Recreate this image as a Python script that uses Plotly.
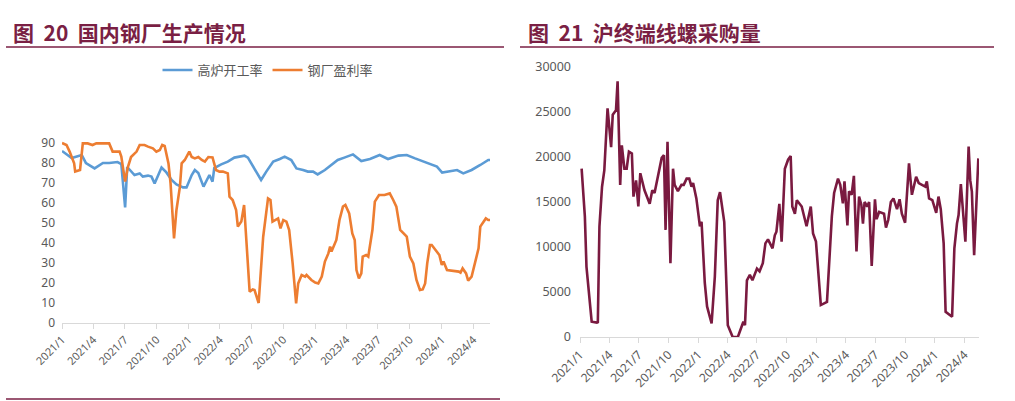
import plotly.graph_objects as go

# ---------------- Left chart data: 国内钢厂生产情况 ----------------
blast_dates = ["2021-01-01","2021-01-29","2021-02-27","2021-03-11","2021-04-05","2021-04-29","2021-05-17",
               "2021-06-10","2021-06-21","2021-07-02","2021-07-08","2021-07-29","2021-08-13","2021-08-22",
               "2021-09-06","2021-09-16","2021-09-25","2021-10-15","2021-10-29","2021-11-13","2021-11-27",
               "2021-12-16","2021-12-26","2022-01-10","2022-01-19","2022-01-29","2022-02-13","2022-03-02",
               "2022-03-11","2022-03-16","2022-04-05","2022-04-24","2022-05-13","2022-06-11","2022-06-21",
               "2022-07-10","2022-07-29","2022-08-13","2022-09-02","2022-09-21","2022-10-05","2022-10-24",
               "2022-11-08","2022-11-27","2022-12-11","2022-12-26","2023-01-08","2023-01-29","2023-02-17",
               "2023-03-07","2023-03-26","2023-04-20","2023-05-14","2023-06-08","2023-07-06","2023-07-30",
               "2023-08-29","2023-09-22","2023-10-16","2023-11-09","2023-11-28","2023-12-18","2024-01-02",
               "2024-01-26","2024-02-14","2024-03-03","2024-03-27","2024-04-21","2024-05-14","2024-05-19"]
blast_rate = [86, 82.5, 84, 80, 77.3, 80, 80,
              80.5, 79.5, 57.8, 78, 74, 74.8, 73.2,
              73.7, 73.2, 69.8, 77.7, 75.3, 71.5, 69.3,
              67.8, 67.8, 74, 76.5, 75, 68.2, 74,
              70.7, 77.5, 79.3, 80.7, 82.7, 83.7, 82.7,
              77.3, 71.5, 75.7, 80.7, 82, 83.2, 81.5,
              77.3, 76.5, 75.7, 75.7, 74.3, 76.5, 79,
              81.5, 82.7, 84.3, 81, 82, 84, 82,
              83.7, 84, 82.3, 80.7, 79.8, 78.2, 75.2,
              76, 76.5, 74.8, 76.5, 79, 81.5, 81.5]

profit_dates = ["2021-01-01","2021-01-14","2021-01-23","2021-02-05","2021-02-08","2021-02-22","2021-03-02",
                "2021-03-16","2021-03-30","2021-04-10","2021-05-17","2021-05-27","2021-06-16","2021-06-21",
                "2021-07-02","2021-07-10","2021-07-19","2021-08-04","2021-08-13","2021-08-27","2021-09-06",
                "2021-09-20","2021-09-30","2021-10-10","2021-10-17","2021-10-24","2021-11-04","2021-11-10",
                "2021-11-20","2021-11-27","2021-12-07","2021-12-12","2021-12-21","2022-01-03","2022-01-10",
                "2022-01-19","2022-01-29","2022-02-08","2022-02-17","2022-02-27","2022-03-11","2022-03-21",
                "2022-03-31","2022-04-10","2022-04-24","2022-04-29","2022-05-08","2022-05-18","2022-05-23",
                "2022-06-02","2022-06-10","2022-06-16","2022-06-26","2022-07-05","2022-07-10","2022-07-22",
                "2022-08-04","2022-08-18","2022-08-25","2022-08-31","2022-09-16","2022-09-23","2022-10-01",
                "2022-10-10","2022-10-18","2022-10-28","2022-11-07","2022-11-13","2022-11-23","2022-12-03",
                "2022-12-07","2022-12-21","2023-01-01","2023-01-10","2023-01-20","2023-01-29","2023-02-08",
                "2023-02-13","2023-02-17","2023-03-03","2023-03-12","2023-03-22","2023-03-29","2023-04-09",
                "2023-04-18","2023-04-25","2023-04-30","2023-05-07","2023-05-14","2023-05-18","2023-05-28",
                "2023-06-03","2023-06-15","2023-06-22","2023-07-04","2023-07-20","2023-08-04","2023-08-14",
                "2023-08-23","2023-09-03","2023-09-12","2023-09-22","2023-10-01","2023-10-11","2023-10-20",
                "2023-10-30","2023-11-07","2023-11-14","2023-11-20","2023-11-28","2023-12-03","2023-12-17",
                "2023-12-25","2024-01-01","2024-01-06","2024-01-16","2024-02-04","2024-02-19","2024-02-24",
                "2024-03-01","2024-03-11","2024-03-17","2024-03-27","2024-04-06","2024-04-16","2024-04-21",
                "2024-04-30","2024-05-07","2024-05-14","2024-05-19"]
profit_rate = [90, 89, 85.7, 79.8, 75.7, 76.5, 89.8,
               89.8, 89, 89.8, 89.8, 85.7, 85.7, 83.2,
               70.7, 78, 83, 85.7, 89, 89, 88.2,
               87.3, 85.7, 86.5, 89, 88.5, 79.8, 69.8,
               42.3, 56.5, 68.2, 79.8, 81.5, 85.7, 83,
               82.3, 83, 81.5, 80.7, 83, 82.8, 76.5,
               75.7, 75.7, 74.8, 63.2, 61.5, 56.5, 48.2,
               50.7, 59, 43, 15.7, 16.8, 16.5, 10,
               43, 62.3, 61.5, 50.7, 52.3, 47.3, 51.5,
               50.7, 46.5, 29.8, 9.8, 19.8, 24, 23.2,
               24, 21.5, 20.2, 19.8, 23.2, 30.7, 34.8,
               38.2, 35.7, 41.5, 51.5, 58.2, 59, 54.8,
               44.8, 41.5, 26.5, 22.3, 24.8, 33.2, 34,
               33.2, 46.5, 60.7, 64, 64, 64.8, 61.5,
               58.2, 46.5, 44.8, 43.2, 33.2, 29.8, 21.5,
               16.5, 16.8, 19.8, 29.8, 39, 39, 35.7,
               34, 29, 30.7, 26.5, 26.2, 25.7, 25.2,
               27.3, 24.8, 21.2, 23.2, 29.8, 37.3, 48.2,
               50.7, 52.3, 51.5, 51.5]

# ---------------- Right chart data: 沪终端线螺采购量 ----------------
buy_dates = ["2021-01-06","2021-01-16","2021-01-21","2021-02-01","2021-02-06","2021-02-22","2021-02-25",
             "2021-03-02","2021-03-10","2021-03-17","2021-03-27","2021-04-07","2021-04-12","2021-04-22",
             "2021-04-27","2021-05-05","2021-05-10","2021-05-18","2021-05-25","2021-06-01","2021-06-10",
             "2021-06-15","2021-06-23","2021-06-30","2021-07-06","2021-07-19","2021-07-29","2021-08-04",
             "2021-08-12","2021-08-19","2021-09-10","2021-09-17","2021-09-22","2021-09-28","2021-10-07",
             "2021-10-15","2021-10-20","2021-10-30","2021-11-10","2021-11-17","2021-11-26","2021-12-04",
             "2021-12-11","2021-12-16","2021-12-26","2022-01-06","2022-01-11","2022-01-21","2022-01-28",
             "2022-02-11","2022-02-21","2022-03-02","2022-03-09","2022-03-22","2022-04-02","2022-04-17",
             "2022-05-03","2022-05-16","2022-05-20","2022-05-25","2022-05-31","2022-06-09","2022-06-17",
             "2022-07-01","2022-07-09","2022-07-19","2022-07-27","2022-08-04","2022-08-18","2022-08-25",
             "2022-08-30","2022-09-08","2022-09-15","2022-09-25","2022-10-05","2022-10-13","2022-10-18",
             "2022-10-26","2022-11-01","2022-11-16","2022-12-01","2022-12-14","2022-12-21","2022-12-30",
             "2023-01-14","2023-02-02","2023-02-17","2023-02-24","2023-03-08","2023-03-15","2023-03-23",
             "2023-03-28","2023-04-06","2023-04-11","2023-04-19","2023-04-26","2023-05-04","2023-05-12",
             "2023-05-19","2023-05-24","2023-05-29","2023-06-06","2023-06-12","2023-06-20","2023-06-30",
             "2023-07-05","2023-07-13","2023-07-28","2023-08-03","2023-08-10","2023-08-18","2023-08-26",
             "2023-09-06","2023-09-14","2023-09-21","2023-10-01","2023-10-13","2023-10-22","2023-11-04",
             "2023-11-12","2023-11-27","2023-12-02","2023-12-07","2023-12-14","2023-12-24","2023-12-27",
             "2024-01-05","2024-01-12","2024-01-19","2024-01-28","2024-02-03","2024-02-23","2024-03-01",
             "2024-03-09","2024-03-14","2024-03-21","2024-04-04","2024-04-14","2024-04-19","2024-04-24",
             "2024-05-01","2024-05-14"]
buy_volume = [18700, 13400, 7800, 3700, 1700, 1600, 1650,
              12300, 16700, 18500, 25400, 21100, 24700, 25200,
              28400, 16900, 21300, 18700, 18700, 20600, 20400,
              15600, 17400, 14500, 18200, 16300, 15200, 14800,
              16300, 16000, 19900, 20200, 11900, 21700, 8200,
              18700, 16900, 16200, 16900, 16900, 17600, 17600,
              16700, 17100, 15400, 12300, 12800, 6000, 3400,
              1500, 6700, 15200, 16100, 12800, 1300, 0,
              0, 1150, 1700, 1300, 6300, 6900, 6300,
              7600, 7300, 8200, 10400, 10850, 9850, 11300,
              11700, 14800, 10600, 18700, 19700, 20100, 14500,
              13700, 15200, 14500, 12300, 14500, 11500, 10600,
              3550, 3900, 13400, 16000, 17600, 16900, 14850,
              17300, 12400, 16200, 15800, 17900, 9500, 15600,
              14700, 12600, 15000, 14500, 15000, 7900, 15300,
              13100, 13900, 13700, 12150, 13000, 15000, 15400,
              14200, 15300, 13700, 12700, 19300, 15800, 17800,
              17100, 16800, 16700, 17300, 15400, 15200, 14850,
              13800, 15600, 14200, 10400, 2800, 2250, 9850,
              12600, 13550, 17000, 10600, 21150, 17400, 16150,
              9100, 19850]

tick_dates = ["2021-01-01","2021-04-01","2021-07-01","2021-10-01","2022-01-01","2022-04-01","2022-07-01",
              "2022-10-01","2023-01-01","2023-04-01","2023-07-01","2023-10-01","2024-01-01","2024-04-01"]
tick_labels = ["2021/1","2021/4","2021/7","2021/10","2022/1","2022/4","2022/7",
               "2022/10","2023/1","2023/4","2023/7","2023/10","2024/1","2024/4"]

W, H = 1015, 401
TITLE_COLOR = "#7A1F44"
LINE_MAROON = "#7A1A40"
AXIS_GRAY = "#D9D9D9"
TXT_GRAY = "#595959"
CJK = "Noto Sans CJK SC"
NUM = "Noto Sans, Liberation Sans, sans-serif"

def px_x(p):
    return p / W

def px_y(p):
    return 1 - p / H

fig = go.Figure()

fig.add_trace(go.Scatter(x=blast_dates, y=blast_rate, mode="lines", name="高炉开工率",
                         line=dict(color="#5B9BD5", width=2.6), xaxis="x", yaxis="y"))
fig.add_trace(go.Scatter(x=profit_dates, y=profit_rate, mode="lines", name="钢厂盈利率",
                         line=dict(color="#ED7D31", width=2.6), xaxis="x", yaxis="y"))
fig.add_trace(go.Scatter(x=buy_dates, y=buy_volume, mode="lines", name="沪终端线螺采购量",
                         line=dict(color=LINE_MAROON, width=2.6), xaxis="x2", yaxis="y2",
                         showlegend=False))

xaxis_common = dict(type="date", tickmode="array", tickvals=tick_dates, ticktext=tick_labels,
                    tickangle=-45, showgrid=False, zeroline=False, showline=True,
                    linecolor=AXIS_GRAY, linewidth=1, ticks="outside", tickcolor=AXIS_GRAY,
                    ticklen=5, tickwidth=1, automargin=False)

fig.update_layout(
    width=W, height=H,
    margin=dict(l=0, r=0, t=0, b=0, autoexpand=False),
    paper_bgcolor="white", plot_bgcolor="white",
    xaxis=dict(**xaxis_common, domain=[px_x(62), px_x(490)], anchor="y",
               range=["2021-01-01", "2024-05-19"],
               tickfont=dict(family=NUM, size=11, color=TXT_GRAY)),
    yaxis=dict(domain=[px_y(323), px_y(140)], anchor="x", range=[0, 91.5],
               tickvals=[0, 10, 20, 30, 40, 50, 60, 70, 80, 90], automargin=False,
               showgrid=False, zeroline=False, showline=False, ticks="",
               ticklabelstandoff=6,
               tickfont=dict(family=NUM, size=12, color=TXT_GRAY)),
    xaxis2=dict(**xaxis_common, domain=[px_x(580), px_x(979)], anchor="y2",
                range=["2021-01-01", "2024-05-16"],
                tickfont=dict(family=NUM, size=12, color=TXT_GRAY)),
    yaxis2=dict(domain=[px_y(337), px_y(67)], anchor="x2", range=[0, 30000],
                tickvals=[0, 5000, 10000, 15000, 20000, 25000, 30000], tickformat="d",
                automargin=False,
                showgrid=False, zeroline=False, showline=False, ticks="",
                ticklabelstandoff=8,
                tickfont=dict(family=NUM, size=12.5, color=TXT_GRAY)),
    legend=dict(orientation="h", x=px_x(268), y=px_y(70), xanchor="center", yanchor="middle",
                font=dict(family=CJK, size=13, color=TXT_GRAY), bgcolor="rgba(0,0,0,0)",
                itemwidth=30, tracegroupgap=0),
    showlegend=True,
)

annotations = [
    dict(text="<b>图  20  国内钢厂生产情况</b>", x=px_x(11), y=px_y(32), xref="paper", yref="paper",
         xanchor="left", yanchor="middle", showarrow=False,
         font=dict(family=CJK, size=21, color=TITLE_COLOR)),
    dict(text="<b>图  21  沪终端线螺采购量</b>", x=px_x(526), y=px_y(32), xref="paper", yref="paper",
         xanchor="left", yanchor="middle", showarrow=False,
         font=dict(family=CJK, size=21, color=TITLE_COLOR)),
]
fig.update_layout(annotations=annotations)

shapes = [
    dict(type="line", xref="paper", yref="paper", x0=px_x(6), x1=px_x(504), y0=px_y(47), y1=px_y(47),
         line=dict(color=TITLE_COLOR, width=1.5)),
    dict(type="line", xref="paper", yref="paper", x0=px_x(520), x1=px_x(994), y0=px_y(47), y1=px_y(47),
         line=dict(color=TITLE_COLOR, width=1.5)),
    dict(type="line", xref="paper", yref="paper", x0=px_x(6), x1=px_x(500), y0=px_y(399), y1=px_y(399),
         line=dict(color=TITLE_COLOR, width=1.5)),
]
fig.update_layout(shapes=shapes)

fig.write_html("out.html", config={"displayModeBar": False},
               post_script="document.body.style.margin='0';document.body.style.overflow='hidden';")
